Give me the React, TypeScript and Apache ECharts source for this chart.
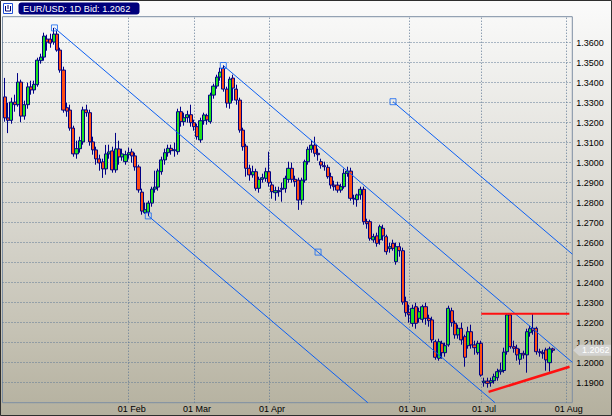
import React, { useEffect, useRef } from "react";
import * as echarts from "echarts";

// Daily EUR/USD candles (index = trading day)
const opens = [
  1.3329, 1.3224, 1.3212, 1.3303, 1.329, 1.3403, 1.3233, 1.329, 1.3379, 1.3364,
  1.339, 1.351, 1.3528, 1.3618, 1.3618, 1.3603, 1.3643, 1.3563, 1.3463, 1.3275,
  1.3263, 1.3173, 1.3044, 1.307, 1.3104, 1.3264, 1.325, 1.3104, 1.3064, 1.3019,
  1.3004, 1.2969, 1.3044, 1.3059, 1.2964, 1.3069, 1.3029, 1.3005, 1.304, 1.3054,
  1.3034, 1.2979, 1.2853, 1.275, 1.2753, 1.2798, 1.2868, 1.2878, 1.2955, 1.3014,
  1.305, 1.3072, 1.306, 1.3055, 1.3255, 1.3205, 1.3225, 1.324, 1.32, 1.318,
  1.3114, 1.321, 1.3235, 1.3205, 1.3338, 1.3383, 1.3428, 1.3473, 1.3368, 1.3298,
  1.3423, 1.3368, 1.3313, 1.3163, 1.3083, 1.2972, 1.2939, 1.2955, 1.2872, 1.2917,
  1.2922, 1.2955, 1.2889, 1.285, 1.286, 1.2867, 1.287, 1.2917, 1.2972, 1.2917,
  1.2913, 1.2813, 1.2913, 1.3005, 1.3067, 1.3088, 1.3047, 1.3005, 1.2985, 1.2977,
  1.293, 1.2888, 1.2888, 1.2863, 1.288, 1.2947, 1.2958, 1.2822, 1.2815, 1.2839,
  1.2867, 1.2705, 1.2705, 1.2614, 1.2634, 1.2615, 1.2672, 1.263, 1.257, 1.2597,
  1.2505, 1.258, 1.256, 1.2305, 1.225, 1.2197, 1.228, 1.2222, 1.2217, 1.228,
  1.2222, 1.2214, 1.2105, 1.2022, 1.2097, 1.205, 1.2089, 1.226, 1.2197, 1.2139,
  1.2172, 1.213, 1.2085, 1.2155, 1.2089, 1.205, 1.2097, 1.19, 1.1908, 1.19,
  1.191, 1.1925, 1.1955, 1.1961, 1.2055, 1.2239, 1.208, 1.2072, 1.2017, 1.2047,
  1.2039, 1.215, 1.2172, 1.2172, 1.2055, 1.205, 1.2064, 1.2, 1.2069,
];
const closes = [
  1.3224, 1.3212, 1.3303, 1.329, 1.3403, 1.3233, 1.329, 1.3379, 1.3364, 1.3392,
  1.3513, 1.3528, 1.3633, 1.3603, 1.3598, 1.3643, 1.3563, 1.3463, 1.3263, 1.3258,
  1.3173, 1.3044, 1.307, 1.311, 1.3264, 1.325, 1.3104, 1.3064, 1.3019, 1.2999,
  1.2969, 1.3044, 1.3054, 1.2964, 1.3069, 1.3029, 1.3044, 1.304, 1.305, 1.3034,
  1.2979, 1.2864, 1.2758, 1.2765, 1.2798, 1.2868, 1.2878, 1.2959, 1.3014, 1.305,
  1.3072, 1.306, 1.3065, 1.3255, 1.3205, 1.3225, 1.324, 1.32, 1.318, 1.313,
  1.321, 1.3239, 1.3214, 1.3338, 1.3383, 1.3428, 1.3453, 1.3368, 1.3298, 1.3418,
  1.3373, 1.3313, 1.3163, 1.308, 1.2972, 1.2939, 1.2955, 1.2872, 1.2917, 1.2925,
  1.2955, 1.29, 1.2855, 1.286, 1.2855, 1.2872, 1.2922, 1.2972, 1.2917, 1.2905,
  1.2813, 1.2913, 1.3005, 1.3067, 1.3088, 1.3047, 1.304, 1.2988, 1.298, 1.293,
  1.2888, 1.288, 1.2863, 1.288, 1.2947, 1.2958, 1.2822, 1.2818, 1.2839, 1.2867,
  1.2705, 1.2695, 1.2622, 1.263, 1.2597, 1.268, 1.2634, 1.2555, 1.258, 1.2572,
  1.258, 1.256, 1.2303, 1.225, 1.224, 1.2272, 1.2197, 1.2255, 1.228, 1.2222,
  1.221, 1.2114, 1.2027, 1.2105, 1.205, 1.2085, 1.2272, 1.22, 1.2139, 1.2172,
  1.2114, 1.2027, 1.2155, 1.2089, 1.2075, 1.2097, 1.1938, 1.1908, 1.1897, 1.191,
  1.193, 1.1955, 1.1963, 1.2053, 1.2239, 1.208, 1.2072, 1.2039, 1.2045, 1.2039,
  1.2155, 1.217, 1.216, 1.2055, 1.205, 1.2045, 1.2014, 1.2069, 1.2062,
];
const lows = [
  1.3205, 1.3148, 1.3195, 1.3255, 1.328, 1.3203, 1.3215, 1.327, 1.334, 1.3345,
  1.338, 1.3495, 1.351, 1.356, 1.3575, 1.359, 1.3555, 1.345, 1.325, 1.323,
  1.316, 1.303, 1.302, 1.305, 1.309, 1.323, 1.3085, 1.304, 1.299, 1.296,
  1.2924, 1.294, 1.302, 1.295, 1.295, 1.299, 1.301, 1.299, 1.302, 1.3,
  1.296, 1.285, 1.274, 1.2745, 1.2733, 1.278, 1.285, 1.286, 1.294, 1.299,
  1.303, 1.304, 1.303, 1.304, 1.318, 1.3185, 1.32, 1.318, 1.316, 1.3115,
  1.31, 1.319, 1.319, 1.3195, 1.332, 1.337, 1.341, 1.3355, 1.3275, 1.327,
  1.331, 1.329, 1.315, 1.306, 1.293, 1.291, 1.2925, 1.286, 1.285, 1.29,
  1.2905, 1.288, 1.282, 1.281, 1.283, 1.2805, 1.285, 1.29, 1.29, 1.288,
  1.2764, 1.279, 1.29, 1.299, 1.305, 1.303, 1.301, 1.297, 1.296, 1.292,
  1.287, 1.286, 1.285, 1.285, 1.287, 1.293, 1.281, 1.279, 1.278, 1.2815,
  1.269, 1.267, 1.261, 1.26, 1.258, 1.259, 1.261, 1.254, 1.255, 1.256,
  1.249, 1.253, 1.229, 1.223, 1.22, 1.218, 1.217, 1.22, 1.22, 1.219,
  1.218, 1.21, 1.2015, 1.201, 1.202, 1.203, 1.208, 1.218, 1.212, 1.212,
  1.209, 1.198, 1.207, 1.207, 1.204, 1.204, 1.193, 1.188, 1.1875, 1.188,
  1.1895, 1.191, 1.194, 1.195, 1.204, 1.207, 1.205, 1.201, 1.199, 1.202,
  1.195, 1.213, 1.214, 1.204, 1.203, 1.202, 1.196, 1.1955, 1.205,
];
const highs = [
  1.3424, 1.33, 1.3325, 1.334, 1.3448, 1.3415, 1.331, 1.34, 1.341, 1.341,
  1.3525, 1.3545, 1.365, 1.364, 1.3645, 1.3674, 1.366, 1.3575, 1.348, 1.33,
  1.329, 1.3185, 1.311, 1.313, 1.328, 1.329, 1.3265, 1.313, 1.308, 1.304,
  1.302, 1.3089, 1.309, 1.308, 1.3149, 1.311, 1.307, 1.306, 1.3075, 1.307,
  1.305, 1.299, 1.287, 1.28, 1.281, 1.288, 1.296, 1.297, 1.303, 1.307,
  1.309, 1.309, 1.31, 1.327, 1.328, 1.325, 1.326, 1.329, 1.3215, 1.3195,
  1.3225, 1.325, 1.3245, 1.335, 1.3395, 1.344, 1.3475, 1.3487, 1.338, 1.343,
  1.344, 1.339, 1.3325, 1.3175, 1.3095, 1.299, 1.2985, 1.297, 1.293, 1.2945,
  1.2975, 1.3055, 1.2905, 1.288, 1.288, 1.29, 1.2935, 1.3005, 1.3, 1.2935,
  1.2925, 1.2925, 1.3015, 1.308, 1.3114, 1.313, 1.307, 1.302, 1.3005, 1.299,
  1.295, 1.291, 1.2905, 1.2895, 1.297, 1.298, 1.2975, 1.284, 1.2845, 1.288,
  1.288, 1.272, 1.2715, 1.2645, 1.265, 1.269, 1.269, 1.264, 1.26, 1.2615,
  1.26, 1.26, 1.2575, 1.233, 1.229, 1.229, 1.23, 1.2275, 1.229, 1.23,
  1.224, 1.223, 1.2115, 1.212, 1.211, 1.21, 1.2285, 1.2275, 1.221, 1.219,
  1.22, 1.214, 1.218, 1.219, 1.211, 1.211, 1.211, 1.1925, 1.1925, 1.1925,
  1.1945, 1.197, 1.2, 1.2075, 1.2247, 1.2247, 1.211, 1.209, 1.207, 1.206,
  1.217, 1.2185, 1.2247, 1.218, 1.207, 1.2065, 1.2075, 1.208, 1.2075,
];

// Axis ticks
const monthTickIndex = [38, 58, 81, 124, 146, 172];
const monthTickLabel = ["01 Feb", "01 Mar", "01 Apr", "01 Jun", "01 Jul", "01 Aug"];
const priceTicks = [
  1.19, 1.2, 1.21, 1.22, 1.23, 1.24, 1.25, 1.26, 1.27, 1.28, 1.29, 1.3, 1.31,
  1.32, 1.33, 1.34, 1.35, 1.36,
];

// Drawn trend lines (index, price)
const channelA = [[15.23, 1.3674], [150.3, 1.18]];
const channelC = [[44, 1.2734], [111.3, 1.18]];
const channelB = [[67, 1.3486], [174, 1.2002]];
const channelD = [[119.03, 1.3305], [174, 1.2543]];
const handlePoints = [
  [15.23, 1.3674],
  [44, 1.2734],
  [67, 1.3486],
  [96.05, 1.2553],
  [119.03, 1.3305],
];
const resistanceLine = [[146.1, 1.2245], [173.1, 1.2245]];
const supportLine = [[148.33, 1.1854], [173.15, 1.198]];

const FONT = '"Liberation Sans", Arial, Helvetica, sans-serif';

export default function App() {
  const ref = useRef<HTMLDivElement>(null);

  useEffect(() => {
    if (!ref.current) return;
    const chart = echarts.init(ref.current, null, { renderer: "svg" });
    const candles = opens.map((o, i) => [i, o, closes[i], lows[i], highs[i]]);
    const lastClose = closes[closes.length - 1];
    const gridColor = "#5f7894";
    const trendColor = "#0c5ff2";

    const lineSeries = (data: number[][], color: string, width: number) => ({
      type: "line",
      data,
      symbol: "none",
      silent: true,
      clip: true,
      z: 4,
      lineStyle: { color, width },
    });

    const option: any = {
      animation: false,
      backgroundColor: "transparent",
      grid: {
        left: 2.5,
        top: 16.7,
        right: 39.7,
        bottom: 13.3,
        show: true,
        borderColor: "#7d8ea3",
        borderWidth: 1,
        backgroundColor: "transparent",
      },
      xAxis: {
        type: "value",
        min: -0.7,
        max: 174,
        axisLine: { show: false },
        axisTick: { show: false },
        splitLine: { show: false },
        axisLabel: {
          customValues: monthTickIndex,
          formatter: (v: number) => {
            const k = monthTickIndex.indexOf(Math.round(v));
            return k >= 0 ? monthTickLabel[k] : "";
          },
          fontSize: 9,
          fontFamily: FONT,
          color: "#000",
          margin: 2,
          padding: [0, 0, 0, 6],
        },
      },
      yAxis: {
        type: "value",
        position: "right",
        min: 1.18,
        max: 1.373,
        interval: 0.01,
        axisLine: { show: false },
        axisTick: { show: false },
        splitLine: { show: false },
        axisLabel: {
          customValues: priceTicks,
          formatter: (v: number) =>
            v < 1.185 || v > 1.365 ? "" : v.toFixed(4),
          fontSize: 9,
          fontFamily: FONT,
          color: "#000",
          margin: 4,
        },
      },
      graphic: [
        {
          type: "rect",
          silent: true,
          z: 100,
          shape: { x: 0.5, y: 0.5, width: 611, height: 415 },
          style: { fill: "none", stroke: "#2e2e2e", lineWidth: 1 },
        },
        {
          type: "rect",
          z: 100,
          shape: { x: 18.5, y: 2.5, width: 121, height: 12, r: 3 },
          style: { fill: "#00007c" },
        },
        {
          type: "text",
          z: 101,
          x: 23,
          y: 8.8,
          style: {
            text: `EUR/USD: 1D Bid: ${lastClose.toFixed(4)}`,
            fill: "#ffffff",
            font: `9.2px ${FONT}`,
            verticalAlign: "middle",
            align: "left",
          },
        },
        {
          type: "rect",
          z: 100,
          shape: { x: 3.5, y: 3.5, width: 9, height: 10 },
          style: { fill: "#ffffff", stroke: "#1f4fd6", lineWidth: 1 },
        },
        {
          type: "polyline",
          z: 101,
          shape: { points: [[5.5, 6], [5.5, 11], [10.5, 11], [10.5, 6]] },
          style: { fill: "none", stroke: "#000070", lineWidth: 1 },
        },
        {
          type: "line",
          z: 101,
          shape: { x1: 8, y1: 5, x2: 8, y2: 9 },
          style: { stroke: "#000070", lineWidth: 1 },
        },
      ],
      series: [
        {
          type: "candlestick",
          data: candles,
          encode: { x: 0, y: [1, 2, 3, 4] },
          barWidth: 3.6,
          z: 2,
          clip: true,
          itemStyle: {
            color: "#1fe01f",
            color0: "#ff4c12",
            borderColor: "#000084",
            borderColor0: "#000084",
            borderWidth: 1,
          },
          markLine: {
            silent: true,
            z: 1,
            symbol: ["none", "none"],
            label: { show: false },
            lineStyle: { color: gridColor, width: 1, type: [1, 2] },
            emphasis: { disabled: true },
            data: [
              ...priceTicks.map((v) => ({ yAxis: v })),
              ...monthTickIndex.map((v) => ({ xAxis: v })),
            ],
          },
          markPoint: {
            silent: true,
            z: 10,
            symbol: "path://M0,6 L6,0 L40,0 L40,12 L6,12 Z",
            symbolSize: [39, 11],
            symbolKeepAspect: false,
            symbolOffset: [22, 0],
            itemStyle: { color: "#d3d3d1" },
            label: {
              show: true,
              position: "inside",
              color: "#ffffff",
              fontSize: 9,
              fontFamily: FONT,
              offset: [3, 0],
              formatter: () => lastClose.toFixed(4),
            },
            data: [{ coord: [173.5, lastClose] }],
          },
        },
        lineSeries(channelA, trendColor, 1),
        lineSeries(channelC, trendColor, 1),
        lineSeries(channelB, trendColor, 1),
        lineSeries(channelD, trendColor, 1),
        lineSeries(resistanceLine, "#ff1010", 2),
        lineSeries(supportLine, "#ff1010", 2.5),
        {
          type: "scatter",
          data: handlePoints,
          symbol: "rect",
          symbolSize: 6,
          silent: true,
          z: 5,
          itemStyle: {
            color: "rgba(0,0,0,0)",
            borderColor: "#1466f0",
            borderWidth: 1,
          },
        },
      ],
    };

    chart.setOption(option);
    return () => chart.dispose();
  }, []);

  return (
    <div
      ref={ref}
      style={{
        position: "absolute",
        left: 0,
        top: 0,
        width: 612,
        height: 416,
        background:
          "linear-gradient(to bottom, #fbfbfb 0%, #f2f2f0 14%, #e5e4df 34%, #d4d2c9 58%, #c5c2b4 80%, #b4b09e 100%)",
      }}
    />
  );
}
